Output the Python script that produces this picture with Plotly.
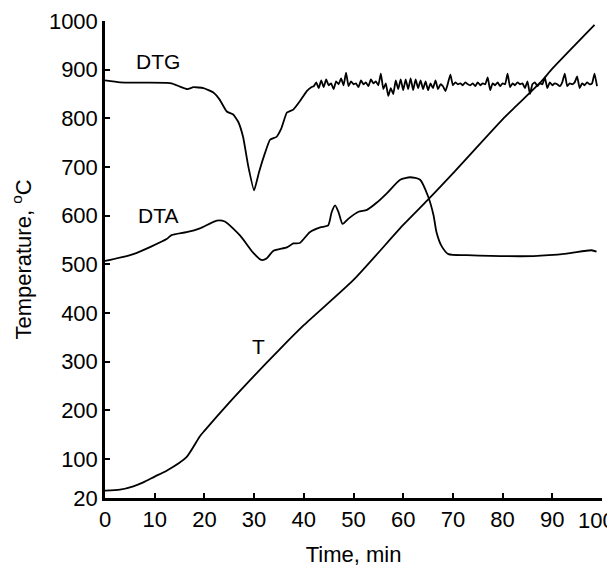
import plotly.graph_objects as go

# ---------------- data ----------------
T_TIME = [0, 3, 5.7, 7.7, 10, 12.4, 16.4, 19.1, 20, 25, 30, 35, 40, 50, 60, 65, 70, 80, 82.8, 87.9, 90, 98.5]
T_VALUE = [35, 37, 44, 52, 64, 76, 104, 147, 158, 216, 271, 324, 375, 468, 581, 633, 687, 798, 826, 877, 902, 992]

DTA_TIME = [0, 5.7, 12.4, 13.4, 16.4, 19.1, 22.5, 24.1, 27.2, 29.8, 31.5, 32.5, 33.9, 36.6, 37.9, 39.2,
            41.2, 43.3, 44.9, 45.6, 46.3, 47.0, 47.8, 49.0, 51.0, 52.7, 54.7, 56.7, 59.4, 61.4, 63.4,
            65.0, 66.1, 66.7, 67.7, 69.1, 72.8, 86.2, 92.9, 97.9, 98.9]
DTA_VALUE = [507, 521, 552, 560, 566, 574, 590, 588, 559, 524, 509, 512, 528, 535, 543, 544,
             566, 576, 580, 607, 621, 607, 583, 594, 608, 612, 627, 646, 674, 679, 674,
             640, 601, 566, 538, 521, 519, 517, 522, 529, 526]

DTG_TIME = [0, 3, 12.4, 13.4, 15.1, 16.6, 17.8, 19.8, 21.8, 23.1, 24.5, 25.8, 26.8, 27.8, 28.8, 30.0,
            31.0, 32.2, 33.2, 34.5, 35.5, 36.6, 37.9, 39.2, 40.6, 41.5,
            42.0, 42.5, 43.0, 43.5, 44.0, 44.5, 45.0, 45.5, 46.0, 46.5, 47.0, 47.5, 48.0, 48.5, 49.0, 49.5,
            50.0, 50.5, 51.0, 51.5, 52.0, 52.5, 53.0, 53.5, 54.0, 54.5, 55.0, 55.5, 56.0, 56.5, 57.0, 57.5,
            58.0, 58.5, 59.0, 59.5, 60.0, 60.5, 61.0, 61.5, 62.0, 62.5, 63.0, 63.5, 64.0, 64.5, 65.0, 65.5,
            66.0, 66.5, 67.0, 67.5, 68.0, 68.5, 69.0, 69.5, 70.0, 70.5, 71.0, 71.5, 72.0, 72.5, 73.0, 73.5,
            74.0, 74.5, 75.0, 75.5, 76.0, 76.5, 77.0, 77.5, 78.0, 78.5, 79.0, 79.5, 80.0, 80.5, 81.0, 81.5,
            82.0, 82.5, 83.0, 83.5, 84.0, 84.5, 85.0, 85.5, 86.0, 86.5, 87.0, 87.5, 88.0, 88.5, 89.0, 89.5,
            90.0, 90.5, 91.0, 91.5, 92.0, 92.5, 93.0, 93.5, 94.0, 94.5, 95.0, 95.5, 96.0, 96.5, 97.0, 97.5,
            98.0, 98.5, 99.0]
DTG_VALUE = [878, 874, 873, 872, 865, 860, 864, 862, 853, 838, 814, 808, 793, 761, 703, 652,
             690, 729, 756, 762, 780, 812, 818, 835, 856, 864,
             866, 874, 862, 878, 864, 880, 868, 872, 860, 876, 870, 882, 868, 894, 866, 876,
             870, 872, 864, 878, 870, 874, 866, 880, 872, 876, 868, 892, 860, 872, 846, 862,
             850, 878, 860, 880, 858, 880, 860, 882, 858, 880, 862, 878, 860, 876, 858, 872,
             862, 878, 860, 870, 866, 856, 872, 890, 868, 874, 870, 872, 868, 874, 870, 868,
             872, 866, 874, 868, 872, 870, 884, 858, 872, 868, 874, 866, 872, 870, 892, 864,
             872, 868, 874, 870, 872, 862, 876, 850, 870, 874, 866, 872, 870, 884, 862, 874,
             868, 872, 870, 866, 874, 892, 866, 872, 870, 874, 886, 862, 872, 868, 874, 870,
             872, 892, 866]

X_TICKS = [0, 10, 20, 30, 40, 50, 60, 70, 80, 90, 100]
X_TICK_TEXT = ["0", "10", "20", "30", "40", "50", "60", "70", "80", "90", ""]
X_LAST_TICK = 100          # its label is drawn separately, nudged left to stay on the page
X_LAST_TICK_TEXT = "100"
Y_TICKS = [20, 100, 200, 300, 400, 500, 600, 700, 800, 900, 1000]

CURVE_LABELS = ["DTG", "DTA", "T"]
LABEL_TIME = [10.7, 10.7, 30.8]
LABEL_VALUE = [916, 600, 332]

# ---------------- figure ----------------
FONT = "Liberation Sans, Arial, sans-serif"
line_style = dict(color="black", width=1.8)

fig = go.Figure()
fig.add_trace(go.Scatter(x=T_TIME, y=T_VALUE, mode="lines", name="T",
                         line=dict(**line_style, shape="spline", smoothing=0.6)))
fig.add_trace(go.Scatter(x=DTA_TIME, y=DTA_VALUE, mode="lines", name="DTA",
                         line=dict(**line_style, shape="spline", smoothing=0.6)))
fig.add_trace(go.Scatter(x=DTG_TIME, y=DTG_VALUE, mode="lines", name="DTG",
                         line=dict(**line_style, shape="spline", smoothing=0.4)))

for label, lx, ly in zip(CURVE_LABELS, LABEL_TIME, LABEL_VALUE):
    fig.add_annotation(x=lx, y=ly, text=label, showarrow=False,
                       font=dict(family=FONT, size=21, color="black"))

fig.add_annotation(x=X_LAST_TICK, xref="x", y=0, yref="paper", text=X_LAST_TICK_TEXT,
                   showarrow=False, xanchor="center", yanchor="middle",
                   xshift=-6, yshift=-22, font=dict(family=FONT, size=22, color="black"))

# page body adds an 8px offset, so the figure is sized to fit the window after it
fig.update_layout(
    width=607, height=559,
    margin=dict(l=97, r=13, t=13, b=69),
    paper_bgcolor="white", plot_bgcolor="white",
    showlegend=False,
    font=dict(family=FONT, size=21, color="black"),
)
fig.update_xaxes(
    range=[0, 100], tickvals=X_TICKS, ticktext=X_TICK_TEXT,
    ticks="inside", ticklen=5, tickwidth=1.5, tickcolor="black",
    showline=True, linecolor="black", linewidth=2.5, showgrid=False, zeroline=False,
    automargin=False, ticklabeloverflow="allow",
    title=dict(text="Time, min", standoff=22, font=dict(size=22)),
    tickfont=dict(size=22),
)
fig.update_yaxes(
    range=[20, 1000], tickvals=Y_TICKS, ticks="inside", ticklen=5, tickwidth=1.5, tickcolor="black",
    showline=True, linecolor="black", linewidth=2.5, showgrid=False, zeroline=False,
    automargin=False, ticklabeloverflow="allow",
    title=dict(text="Temperature, <sup>o</sup>C", standoff=14, font=dict(size=22)),
    tickfont=dict(size=22),
)

fig.write_html("out.html")
